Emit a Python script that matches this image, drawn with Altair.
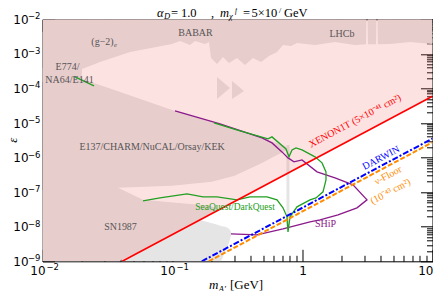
import math
import altair as alt
import pandas as pd

# ---------------- data ----------------
# straight limits in the log-log plane
xenon_m = [0.041, 10.0]
xenon_eps = [1.0e-9, 5.95e-5]
darwin_m = [0.168, 10.0]
darwin_eps = [1.0e-9, 3.55e-6]
nufloor_m = [0.19, 10.0]
nufloor_eps = [1.0e-9, 2.77e-6]

# upper excluded band ((g-2)_e, BABAR, LHCb): lower edge (upper edge = 1e-2)
top_m = [0.01, 0.01995, 0.02013, 0.02769, 0.0471, 0.0991, 0.1142, 0.1363, 0.149, 0.1778, 0.191,
         0.1978, 0.22, 0.2446, 0.272, 0.3134, 0.361, 0.416, 0.4795, 0.5525, 0.6367, 0.708, 0.8156,
         0.9073, 1.248, 1.778, 2.534, 3.08, 3.10, 3.17, 3.19, 3.68, 3.70, 3.78, 3.80, 4.71, 6.71, 10.0]
top_eps = [1.54e-4, 1.54e-4, 3.66e-4, 5.83e-4, 1.135e-3, 1.93e-3, 2.36e-3, 1.81e-3, 2.36e-3, 1.93e-3, 2.21e-3,
           7.62e-4, 5.11e-4, 8.13e-4, 5.46e-4, 7.62e-4, 4.78e-4, 7.62e-4, 5.83e-4, 8.69e-4, 1.135e-3, 1.81e-3, 1.69e-3,
           2.06e-3, 1.81e-3, 2.21e-3, 1.81e-3, 1.9e-3, 1e-2, 1e-2, 1.9e-3, 1.9e-3, 1e-2, 1e-2, 1.9e-3,
           1.93e-3, 2.21e-3, 1.93e-3]

# beam dumps (E774/E141/E137/CHARM/NuCAL/Orsay/KEK)
bd_m = [0.01, 0.0201, 0.0381, 0.0991, 0.2, 0.3, 0.488, 0.6, 0.7335, 0.8013]
bd_lo = [1e-9, 1e-9, 1.33e-7, 1.52e-7, 1.99e-7, 2.96e-7, 7.03e-7, 1.05e-6, 1.56e-6, 1.6e-6]
bd_hi = [3.92e-4, 1.88e-4, 8.26e-5, 2.39e-5, 1.05e-5, 6.56e-6, 3.71e-6, 2.83e-6, 2.18e-6, 1.6e-6]

# SN1987: upper edge (above the XENON1T line) ...
sn_up_m = [0.01, 0.0381, 0.0593, 0.1064, 0.1943, 0.2239]
sn_up_eps = [1.16e-7, 1.33e-7, 5.98e-8, 4.9e-8, 4.02e-8, 3.29e-8]
# ... and the edge of the part that lies below the XENON1T line
sn_low_m = [0.2123, 0.236, 0.258, 0.272, 0.2818, 0.2843]
sn_low_lo = [1e-9, 1e-9, 2.15e-9, 3.42e-9, 5.45e-9, 6.24e-9]
sn_low_hi = [1.19e-8, 1.05e-8, 9.8e-9, 8.68e-9, 7.1e-9, 6.24e-9]
sn_join_m = [0.041, 0.1627]   # below these masses the part is bounded by the XENON1T line

# narrow resonance strip
strip_m = [0.753, 0.794]
strip_lo = [1.06e-8, 1.06e-8]
strip_hi = [2.33e-6, 2.33e-6]

# small islands below BABAR
isl1_m = [0.22, 0.2768]
isl1_lo = [4.99e-5, 1.03e-4]
isl1_hi = [2.15e-4, 1.03e-4]
isl2_m = [0.2869, 0.3548]
isl2_lo = [4.99e-5, 8.47e-5]
isl2_hi = [1.65e-4, 8.47e-5]

# SeaQuest/DarkQuest contour
sq_m = [0.2086, 0.3305, 0.5428, 0.5825, 0.7465, 0.7873, 0.8302, 0.8913, 0.9912, 1.248, 1.413, 1.516,
        1.516, 1.438, 1.27, 1.142, 0.9073, 0.8013, 0.7736, 0.7599, 0.7079, 0.6367, 0.5331, 0.3946,
        0.3134, 0.22, 0.1716, 0.1293, 0.0801, 0.0593]
sq_eps = [1.007e-5, 5.92e-6, 3.48e-6, 3.97e-6, 1.78e-6, 1.05e-6, 1.67e-6, 1.91e-6, 1.67e-6, 1.05e-6, 7.03e-7, 3.86e-7,
          2.27e-7, 1.02e-7, 6.8e-8, 5.98e-8, 3.76e-8, 1.93e-8, 7.1e-9, 1.93e-8, 3.52e-8, 5.98e-8, 7.31e-8, 7.31e-8,
          5.98e-8, 7.31e-8, 7.31e-8, 8.93e-8, 6.84e-8, 5.6e-8]
sq2_m = [0.01778, 0.0249]
sq2_eps = [2.15e-4, 1.18e-4]

# SHiP contour
ship_m = [0.1045, 0.232, 0.488, 0.5825, 0.6955, 0.7736, 0.86, 0.9912, 1.293, 1.778, 2.446, 3.135,
          2.626, 1.876, 1.363, 1.142, 0.7079, 0.4467, 0.2818]
ship_eps = [2.24e-5, 9.42e-6, 3.71e-6, 2.66e-6, 1.46e-6, 9.8e-7, 7.51e-7, 8.58e-7, 3.86e-7, 2.59e-7, 1.63e-7, 5.98e-8,
            3.52e-8, 2.21e-8, 1.58e-8, 1.39e-8, 8.69e-9, 5.83e-9, 6.24e-9]

# axis ticks
x_major = [0.01, 0.1, 1, 10]
x_exp_vals = [0.01, 0.1]
x_exp_text = ["−2", "−1"]
x_plain_vals = [1]
x_plain_text = ["1"]
x_last_vals = [10]
x_last_text = ["10"]
y_major = [1e-9, 1e-8, 1e-7, 1e-6, 1e-5, 1e-4, 1e-3, 1e-2]
y_exp_text = ["−9", "−8", "−7", "−6", "−5", "−4", "−3", "−2"]
x_minor = [k * 10.0 ** d for d in (-2, -1, 0) for k in range(2, 10)]
y_minor = [k * 10.0 ** d for d in range(-9, -2) for k in range(2, 10)]

# labels
lab_text = ["(g−2)", "E774/", "NA64/E141", "BABAR", "LHCb", "E137/CHARM/NuCAL/Orsay/KEK", "SN1987",
            "SeaQuest/DarkQuest", "SHiP", "XENON1T (5×10⁻⁴¹ cm²)", "DARWIN", "ν-Floor", "(10⁻⁴³ cm²)"]
lab_m = [0.02893, 0.01557, 0.01613, 0.1503, 2.013, 0.0696, 0.0398, 0.3026, 1.503, 2.535, 4.018, 4.55, 4.75]
lab_eps = [2.25e-3, 4.18e-4, 1.76e-4, 3.94e-3, 3.76e-3, 2.04e-6, 1.01e-8, 3.84e-8, 1.19e-8, 1.15e-5, 9.8e-7,
           3.05e-7, 1.05e-7]
lab_color = ["#555555"] * 7 + ["#22a022", "#8b1a8b", "#ff0000", "#0000ff", "#ff8c00", "#ff8c00"]
lab_size = [10, 10, 10, 10, 10, 10, 10, 9.5, 10, 10, 10, 10, 10]
lab_angle = [0, 0, 0, 0, 0, 0, 0, 0, 0, 332, 332, 332, 332]

# ---------------- chart ----------------
W, H = 390, 242
xs = alt.Scale(type="log", domain=[0.01, 10], nice=False)
ys = alt.Scale(type="log", domain=[1e-9, 1e-2], nice=False)
GREY = "#e5e5e5"


def on_line(m, lm, le):
    """value of a straight log-log limit (given by two points) at mass m"""
    t = (math.log10(m) - math.log10(lm[0])) / (math.log10(lm[1]) - math.log10(lm[0]))
    return 10 ** (math.log10(le[0]) + t * (math.log10(le[1]) - math.log10(le[0])))


def band(m, lo, hi, color, opacity=1.0):
    df = pd.DataFrame({"m": m, "lo": lo, "hi": hi})
    return alt.Chart(df).mark_area(color=color, opacity=opacity, clip=True).encode(
        x=alt.X("m:Q", scale=xs, axis=None),
        y=alt.Y("lo:Q", scale=ys, axis=None),
        y2="hi:Q",
    )


def path(m, eps, color, width=1.5, dash=None):
    df = pd.DataFrame({"m": m, "eps": eps, "i": range(len(m))})
    kw = dict(color=color, strokeWidth=width, clip=True)
    if dash:
        kw["strokeDash"] = dash
    return alt.Chart(df).mark_line(**kw).encode(
        x=alt.X("m:Q", scale=xs, axis=None),
        y=alt.Y("eps:Q", scale=ys, axis=None),
        order="i:Q",
    )


def expr_for(vals, texts):
    e = "''"
    for v, t in zip(vals, texts):
        k = round(math.log10(v))
        e = f"round(log(datum.value)/LN10) == {k} ? '{t}' : " + e
    return e


frame = pd.DataFrame({"m": [0.01, 10], "eps": [1e-9, 1e-2]})
tickax = dict(domain=False, grid=False, title=None, tickColor="black", tickWidth=1, labels=False)
labax = dict(domain=False, grid=False, title=None, ticks=False, tickSize=0, offset=0,
             labelFont="DejaVu Sans", labelColor="black", labelFlush=False, labelOverlap=False)


def axis_layer(xa, ya):
    return alt.Chart(frame).mark_point(opacity=0).encode(
        x=alt.X("m:Q", scale=xs, axis=xa),
        y=alt.Y("eps:Q", scale=ys, axis=ya),
    )


MAJ, MIN = 12, 6
axes = [
    axis_layer(alt.Axis(orient="bottom", values=x_major, tickSize=MAJ, offset=-MAJ, **tickax),
               alt.Axis(orient="left", values=y_major, tickSize=MAJ, offset=-MAJ, **tickax)),
    axis_layer(alt.Axis(orient="bottom", values=x_minor, tickSize=MIN, offset=-MIN, **tickax),
               alt.Axis(orient="left", values=y_minor, tickSize=MIN, offset=-MIN, **tickax)),
    axis_layer(alt.Axis(orient="top", values=x_major, tickSize=MAJ, offset=-MAJ, **tickax),
               alt.Axis(orient="right", values=y_major, tickSize=MAJ, offset=-MAJ, **tickax)),
    axis_layer(alt.Axis(orient="top", values=x_minor, tickSize=MIN, offset=-MIN, **tickax),
               alt.Axis(orient="right", values=y_minor, tickSize=MIN, offset=-MIN, **tickax)),
    # base "10" labels
    axis_layer(alt.Axis(orient="bottom", values=x_exp_vals, labelExpr="'10'", labelAlign="right",
                        labelOffset=2.5, labelPadding=4, labelFontSize=12, **labax),
               alt.Axis(orient="left", values=y_major, labelExpr="'10'", labelAlign="right",
                        labelPadding=14.5, labelFontSize=12, **labax)),
    # exponents
    axis_layer(alt.Axis(orient="bottom", values=x_exp_vals, labelExpr=expr_for(x_exp_vals, x_exp_text),
                        labelAlign="left", labelOffset=3.5, labelPadding=1, labelFontSize=8.5, **labax),
               alt.Axis(orient="left", values=y_major, labelExpr=expr_for(y_major, y_exp_text),
                        labelAlign="right", labelOffset=-3.5, labelPadding=2.5, labelFontSize=8.5, **labax)),
    # plain labels
    axis_layer(alt.Axis(orient="bottom", values=x_plain_vals, labelExpr=expr_for(x_plain_vals, x_plain_text),
                        labelAlign="center", labelPadding=4, labelFontSize=12, **labax),
               None),
    axis_layer(alt.Axis(orient="bottom", values=x_last_vals, labelExpr=expr_for(x_last_vals, x_last_text),
                        labelAlign="right", labelOffset=0.5, labelPadding=4, labelFontSize=12, **labax),
               None),
]

overlay = band([0.01] + xenon_m, [1e-9] + xenon_eps, [1e-2] * 3, "#f46666", 0.19)

# SN part above the XENON1T line: from the line (or the frame) up to its upper edge
sn_up_lo = [max(1e-9, on_line(m, xenon_m, xenon_eps)) for m in sn_up_m]
sn_up = band(sn_up_m, sn_up_lo, sn_up_eps, GREY)
# SN part below the XENON1T line
sn_low = band(sn_join_m + sn_low_m, [1e-9, 1e-9] + sn_low_lo,
              [on_line(m, xenon_m, xenon_eps) for m in sn_join_m] + sn_low_hi, GREY)

labels_df = pd.DataFrame({"m": lab_m, "eps": lab_eps, "t": lab_text, "c": lab_color,
                          "s": lab_size, "a": lab_angle})
labels = alt.Chart(labels_df).mark_text(font="Liberation Serif", baseline="middle", align="center").encode(
    x=alt.X("m:Q", scale=xs, axis=None),
    y=alt.Y("eps:Q", scale=ys, axis=None),
    text="t:N",
    color=alt.Color("c:N", scale=None),
    size=alt.Size("s:Q", scale=None),
    angle=alt.Angle("a:Q", scale=None),
)
sub_e = alt.Chart(pd.DataFrame({"m": [0.03643], "eps": [1.81e-3], "t": ["e"]})).mark_text(
    font="Liberation Serif", fontStyle="italic", fontSize=7, color="#555555", baseline="middle").encode(
    x=alt.X("m:Q", scale=xs, axis=None), y=alt.Y("eps:Q", scale=ys, axis=None), text="t:N")


def ptext(txt, x, y, size=12, italic=False, angle=0, align="left", baseline="alphabetic"):
    kw = dict(font="Liberation Serif", fontSize=size, color="black", baseline=baseline,
              align=align, text=txt)
    if italic:
        kw["fontStyle"] = "italic"
    if angle:
        kw["angle"] = angle
    return alt.Chart(pd.DataFrame({"a": [0]})).mark_text(**kw).encode(x=alt.value(x), y=alt.value(y))


TB = -2.5
title_parts = [
    ptext("α", 114.5, TB, 12.5, True),
    ptext("D", 121.5, TB + 2.6, 8.5, True),
    ptext("=", 128.5, TB, 12.5),
    ptext("1.0", 138.5, TB, 12.5),
    ptext(",", 168.5, TB, 12.5),
    ptext("m", 177.5, TB, 12.5, True),
    ptext("χ", 186.5, TB + 2.6, 8.5, True),
    ptext("f", 192.5, TB - 3.3, 7.5, True),
    ptext("=", 200.5, TB, 12.5),
    ptext("5×10", 209.0, TB, 12.5),
    ptext("7", 235.5, TB - 3.3, 7.5),
    ptext("GeV", 241.5, TB, 12.5),
    ptext("m", 166.5, 269.7, 13, True),
    ptext("A′", 176.0, 272.7, 9, True),
    ptext("[GeV]", 187.5, 269.7, 13),
    ptext("ε", -30.0, 121.0, 13, True, 270, "center", "middle"),
]

layers = [
    band(top_m, top_eps, [1e-2] * len(top_m), GREY),
    band(bd_m, bd_lo, bd_hi, GREY),
    sn_up,
    sn_low,
    band(strip_m, strip_lo, strip_hi, GREY),
    band(isl1_m, isl1_lo, isl1_hi, GREY),
    band(isl2_m, isl2_lo, isl2_hi, GREY),
    overlay,
    path(ship_m, ship_eps, "#8b1a8b", 1.3),
    path(sq_m, sq_eps, "#22a022", 1.3),
    path(sq2_m, sq2_eps, "#22a022", 1.3),
    path(xenon_m, xenon_eps, "#ff0000", 1.6),
    path(nufloor_m, nufloor_eps, "#ff8c00", 2.0, [5, 2]),
    path(darwin_m, darwin_eps, "#0000ff", 2.0, [6, 2, 2, 2]),
    labels, sub_e,
] + axes + title_parts

chart = alt.layer(*layers).resolve_axis(x="independent", y="independent").properties(
    width=W, height=H,
    padding={"left": 34.5, "top": 11.3, "right": 0.5, "bottom": 30},
    autosize=alt.AutoSizeParams(type="none"),
).configure_view(stroke="black", strokeWidth=1)

chart.save("out.html", embed_options={"renderer": "svg", "actions": False})
